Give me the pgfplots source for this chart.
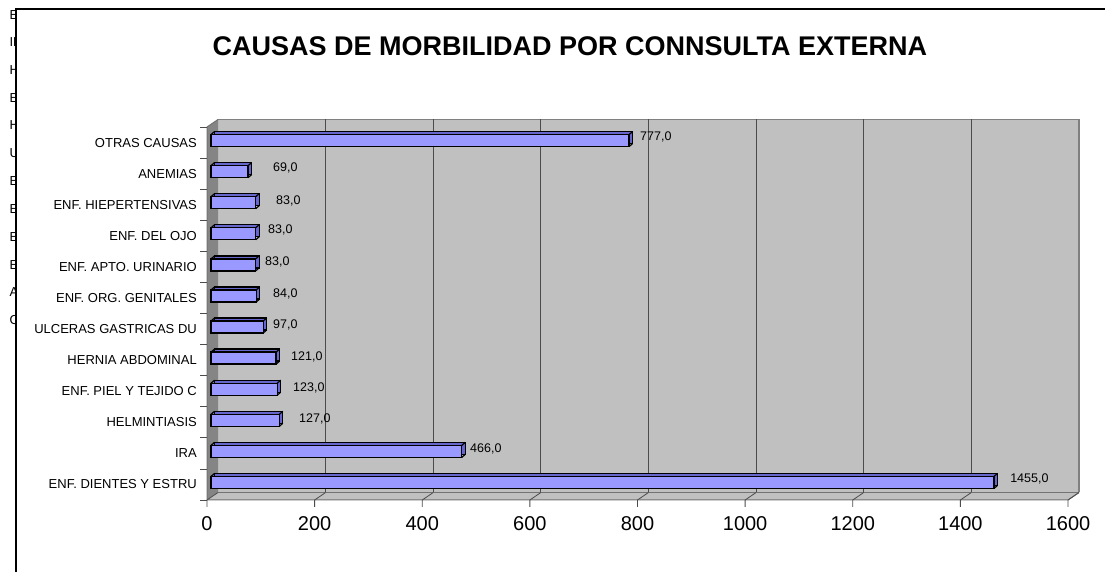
\documentclass[border=0pt]{standalone}
\usepackage{fontspec}
\setmainfont{Liberation Sans}
\usepackage{pgfplots}
\pgfplotsset{compat=1.18}
\usepackage{pgfplotstable}

\definecolor{barfront}{HTML}{9999FF}
\definecolor{barside}{HTML}{6666CC}
\definecolor{wall}{HTML}{C0C0C0}
\definecolor{sidewall}{HTML}{858585}

\pgfplotstableread{
idx val
0 1455
1 466
2 127
3 123
4 121
5 97
6 84
7 83
8 83
9 83
10 69
11 777
}\bars

\pgfplotstableread{
x y lab
1492.3 0.18 1455,0
488.8 1.14 466,0
171.0 2.11 127,0
159.8 3.10 123,0
156.1 4.10 121,0
122.7 5.13 97,0
122.7 6.13 84,0
107.8 7.16 83,0
113.4 8.19 83,0
128.2 9.12 83,0
122.7 10.18 69,0
804.7 11.18 777,0
}\labs

\pgfdeclareplotmark{barend}{%
  \pgfpathmoveto{\pgfqpoint{0pt}{6pt}}\pgfpathlineto{\pgfqpoint{3.5pt}{9pt}}%
  \pgfpathmoveto{\pgfqpoint{0pt}{-6pt}}\pgfpathlineto{\pgfqpoint{3.5pt}{-3pt}}%
  \pgfusepathqstroke}
\pgfdeclareplotmark{barstart}{%
  \pgfpathmoveto{\pgfqpoint{0pt}{6pt}}\pgfpathlineto{\pgfqpoint{3.5pt}{9pt}}%
  \pgfusepathqstroke}

\begin{document}
\begin{tikzpicture}
\path[use as bounding box] (0pt,0pt) rectangle (1105pt,572pt);
\begin{scope}
\clip (0pt,0pt) rectangle (16pt,572pt);
\foreach \t/\yy in {EN/557, IR/530, HE/502, EN/474, HE/447, UL/419, EN/391, EN/363, EN/335, EN/307, AN/280, OT/252}
  \node[anchor=west,inner sep=0pt,font=\fontsize{13}{15}\selectfont] at (9.3pt,\yy pt) {\t};
\end{scope}
\fill[white] (16pt,-5pt) rectangle (1112pt,563pt);
\draw[black, line width=1.5pt] (16pt,-5pt) -- (16pt,563pt) -- (1112pt,563pt);
\node[font=\fontsize{27}{32}\selectfont\bfseries] at (570pt,526pt) {CAUSAS DE MORBILIDAD POR CONNSULTA EXTERNA};

\begin{axis}[at={(207pt,72pt)}, anchor=south west, width=861pt, height=373pt, scale only axis,
  xmin=0, xmax=1600, ymin=-0.5, ymax=11.5, clip=false,
  axis line style={draw=none}, major tick length=0pt,
  xtick={0,200,...,1600}, ytick={0,...,11},
  yticklabels={ENF. DIENTES Y ESTRU, IRA, HELMINTIASIS, ENF. PIEL Y TEJIDO C, HERNIA ABDOMINAL, ULCERAS GASTRICAS DU, ENF. ORG. GENITALES, ENF. APTO. URINARIO, ENF. DEL OJO, ENF. HIEPERTENSIVAS, ANEMIAS, OTRAS CAUSAS},
  /pgf/number format/assume math mode=true, /pgf/number format/1000 sep={},
  xticklabel style={font=\fontsize{20}{24}\selectfont, anchor=north, inner sep=0pt, yshift=-16pt},
  yticklabel style={font=\fontsize{13}{15}\selectfont, anchor=east, inner sep=0pt, xshift=-10pt},
]
% back wall
\fill[wall] ([shift={(11pt,7.5pt)}]axis cs:0,-0.5) rectangle ([shift={(11pt,7.5pt)}]axis cs:1600,11.5);
\draw[black!50, line width=1.2pt] ([shift={(11pt,7.5pt)}]axis cs:0,11.5) -- ([shift={(11pt,7.5pt)}]axis cs:1600,11.5) -- ([shift={(11pt,7.5pt)}]axis cs:1600,-0.5);
% side wall
\fill[sidewall] (axis cs:0,-0.5) -- (axis cs:0,11.5) -- ([shift={(11pt,7.5pt)}]axis cs:0,11.5) -- ([shift={(11pt,7.5pt)}]axis cs:0,-0.5) -- cycle;
% floor
\fill[wall] (axis cs:0,-0.5) -- (axis cs:1600,-0.5) -- ([shift={(11pt,7.5pt)}]axis cs:1600,-0.5) -- ([shift={(11pt,7.5pt)}]axis cs:0,-0.5) -- cycle;
\draw[black!55, line width=1pt] (axis cs:0,11.5) -- ([shift={(11pt,7.5pt)}]axis cs:0,11.5);
\draw[black!55, line width=1pt] (axis cs:0,11.5) -- (axis cs:0,-0.5) -- (axis cs:1600,-0.5) -- ([shift={(11pt,7.5pt)}]axis cs:1600,-0.5);
\draw[black!55, line width=0.8pt] ([shift={(11pt,7.5pt)}]axis cs:0,-0.5) -- ([shift={(11pt,7.5pt)}]axis cs:1600,-0.5);
% grid
\pgfplotsinvokeforeach{200,400,...,1400}{\draw[black!70, line width=1pt] ([shift={(11pt,7.5pt)}]axis cs:#1,-0.5) -- ([shift={(11pt,7.5pt)}]axis cs:#1,11.5);}
\pgfplotsinvokeforeach{0,200,...,1600}{\draw[black!70, line width=0.8pt] ([shift={(11pt,7.5pt)}]axis cs:#1,-0.5) -- (axis cs:#1,-0.5) -- ([yshift=-7pt]axis cs:#1,-0.5);}
\pgfplotsinvokeforeach{-0.5,0.5,...,11.5}{\draw[black!70, line width=0.8pt] (axis cs:0,#1) -- ([xshift=-7pt]axis cs:0,#1);}
% bars
\addplot[xbar, bar width=12pt, fill=barside, draw=black, line width=1.3pt, xshift=7.5pt, yshift=5pt, forget plot] table[x=val,y=idx]{\bars};
\addplot[xbar, bar width=12pt, fill=barfront, draw=black, line width=1.3pt, xshift=4pt, yshift=2pt, forget plot] table[x=val,y=idx]{\bars};
\addplot[only marks, mark=barend, mark options={draw=black, line width=1.2pt}, xshift=4pt, yshift=2pt, forget plot] table[x=val,y=idx]{\bars};
\addplot[only marks, mark=barstart, mark options={draw=black, line width=1.2pt}, xshift=4pt, yshift=2pt, forget plot] table[x expr=0,y=idx]{\bars};
% labels
\addplot[only marks, mark=*, mark size=0pt, mark options={draw=none, fill=none}, nodes near coords, point meta=explicit symbolic,
  every node near coord/.append style={anchor=west, inner sep=0pt, font=\fontsize{12.5}{14}\selectfont, text=black}, forget plot]
  table[x=x,y=y,meta=lab]{\labs};
\end{axis}
\end{tikzpicture}
\end{document}
